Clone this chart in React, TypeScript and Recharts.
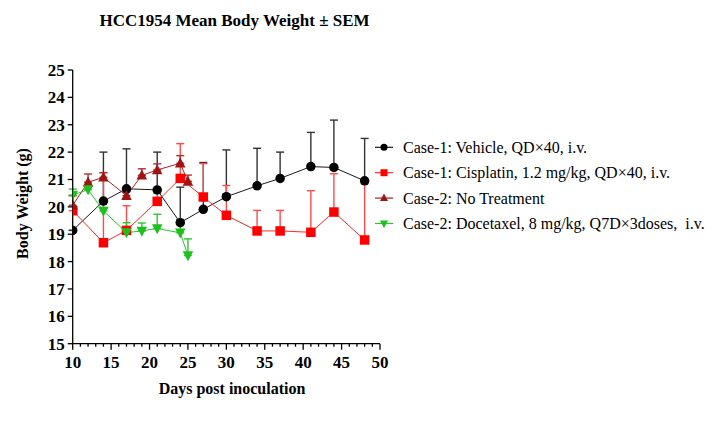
import React from 'react';
import { LineChart, Line, XAxis, YAxis, ErrorBar, Legend, Label } from 'recharts';

// Days post inoculation for each group
const case1Days = [10, 14, 17, 21, 24, 27, 30, 34, 37, 41, 44, 48];
const case2Days = [10, 12, 14, 17, 19, 21, 24, 25];

// Mean body weight (g) and upper SEM per group
const vehicleMean = [19.14, 20.21, 20.66, 20.62, 19.42, 19.91, 20.37, 20.77, 21.04, 21.47, 21.44, 20.95];
const vehicleSem = [0, 1.79, 1.46, 1.38, 1.3, 1.71, 1.71, 1.37, 0.96, 1.25, 1.73, 1.55];

const cisplatinMean = [19.86, 18.69, 19.14, 20.2, 21.04, 20.36, 19.69, 19.12, 19.12, 19.07, 19.81, 18.79];
const cisplatinSem = [0.55, 2.56, 0.9, 0.3, 1.27, 1.22, 1.09, 0.75, 0.75, 1.52, 1.4, 2.06];

const noTreatmentMean = [20.06, 20.9, 21.08, 20.41, 21.15, 21.35, 21.59, 20.93];
const noTreatmentSem = [0.35, 0.3, 0.17, 0.15, 0.24, 0.22, 0.28, 0.23];

const docetaxelMean = [20.43, 20.63, 19.85, 19.06, 19.12, 19.21, 19.05, 18.22];
const docetaxelSem = [0.22, 0.15, 0.1, 0.36, 0.29, 0.52, 0.49, 0.61];

const xTicks = Array.from({ length: 41 }, (_, i) => 10 + i);
const yTicks = [15, 16, 17, 18, 19, 20, 21, 22, 23, 24, 25];

const FONT = '"Liberation Serif", "Times New Roman", serif';

const toRows = (days: number[], mean: number[], sem: number[]) =>
  days.map((d, i) => ({ day: d, w: mean[i], err: [0, sem[i]] }));

type Shape = 'circle' | 'square' | 'triUp' | 'triDown';

const Marker = ({ cx, cy, shape, color, size }: { cx: number; cy: number; shape: Shape; color: string; size: number }) => {
  const h = size / 2;
  if (shape === 'circle') return <circle cx={cx} cy={cy} r={h} fill={color} stroke="none" />;
  if (shape === 'square') return <rect x={cx - h} y={cy - h} width={size} height={size} fill={color} stroke="none" />;
  if (shape === 'triUp')
    return <polygon points={`${cx},${cy - h - 1} ${cx - h - 0.5},${cy + h - 0.5} ${cx + h + 0.5},${cy + h - 0.5}`} fill={color} stroke="none" />;
  return <polygon points={`${cx},${cy + h + 1} ${cx - h - 0.5},${cy - h + 0.5} ${cx + h + 0.5},${cy - h + 0.5}`} fill={color} stroke="none" />;
};

const series = [
  { name: 'Case-1: Vehicle, QD×40, i.v.', rows: toRows(case1Days, vehicleMean, vehicleSem), color: '#000000', line: '#1a1a1a', bar: '#333333', shape: 'circle' as Shape },
  { name: 'Case-1: Cisplatin, 1.2 mg/kg, QD×40, i.v.', rows: toRows(case1Days, cisplatinMean, cisplatinSem), color: '#ff0000', line: '#ff2a2a', bar: '#ff4a4a', shape: 'square' as Shape },
  { name: 'Case-2: No Treatment', rows: toRows(case2Days, noTreatmentMean, noTreatmentSem), color: '#a01414', line: '#a82020', bar: '#b03030', shape: 'triUp' as Shape },
  { name: 'Case-2: Docetaxel, 8 mg/kg, Q7D×3doses,  i.v.', rows: toRows(case2Days, docetaxelMean, docetaxelSem), color: '#1ec01e', line: '#2ac42a', bar: '#30c430', shape: 'triDown' as Shape },
];

const XTick = (props: any) => {
  const { x, y, payload } = props;
  const v = payload.value as number;
  const major = v % 5 === 0;
  return (
    <g>
      <line x1={x} x2={x} y1={y} y2={y + (major ? 6 : 3)} stroke="#000" strokeWidth={1.3} />
      {major && (
        <text x={x} y={y + 24} textAnchor="middle" fontFamily={FONT} fontWeight="bold" fontSize={17} fill="#000">
          {v}
        </text>
      )}
    </g>
  );
};

const YTick = (props: any) => {
  const { x, y, payload } = props;
  return (
    <g>
      <line x1={x} x2={x - 5} y1={y} y2={y} stroke="#000" strokeWidth={1.3} />
      <text x={x - 8} y={y + 6} textAnchor="end" fontFamily={FONT} fontWeight="bold" fontSize={17} fill="#000">
        {payload.value}
      </text>
    </g>
  );
};

const LegendBox = () => (
  <svg width={348} height={110} style={{ display: 'block', overflow: 'visible' }}>
    {series.map((s, i) => {
      const cy = 12.3 + i * 25.4;
      return (
        <g key={s.name}>
          <line x1={5} x2={23} y1={cy} y2={cy} stroke={s.line} strokeWidth={1.2} />
          <Marker cx={14} cy={cy} shape={s.shape} color={s.color} size={7} />
          <text x={33} y={cy + 5.5} fontFamily={FONT} fontSize={16} fill="#000" style={{ whiteSpace: 'pre' }}>
            {s.name}
          </text>
        </g>
      );
    })}
  </svg>
);

export default function App() {
  return (
    <div style={{ position: 'absolute', left: 0, top: 0, width: 718, height: 428, background: '#fff' }}>
      <div
        style={{
          position: 'absolute',
          left: 0,
          width: 469,
          top: 11,
          textAlign: 'center',
          fontFamily: FONT,
          fontWeight: 'bold',
          fontSize: 17,
          lineHeight: '20px',
          color: '#000',
        }}
      >
        HCC1954 Mean Body Weight ± SEM
      </div>
      <LineChart width={718} height={428} margin={{ top: 70, right: 338, bottom: 0, left: 0 }}>
        <XAxis
          type="number"
          dataKey="day"
          domain={[10, 50]}
          ticks={xTicks}
          interval={0}
          allowDataOverflow
          height={84.3}
          tickSize={0}
          tickMargin={0}
          tick={<XTick />}
          axisLine={{ stroke: '#000', strokeWidth: 1.3 }}
        >
          <Label
            content={() => (
              <text x={232} y={393.5} textAnchor="middle" fontFamily={FONT} fontWeight="bold" fontSize={16} fill="#000">
                Days post inoculation
              </text>
            )}
          />
        </XAxis>
        <YAxis
          type="number"
          domain={[15, 25]}
          ticks={yTicks}
          interval={0}
          allowDataOverflow
          width={72.7}
          tickSize={0}
          tickMargin={0}
          tick={<YTick />}
          axisLine={{ stroke: '#000', strokeWidth: 1.3 }}
        >
          <Label
            content={() => (
              <text
                x={28}
                y={203.5}
                transform="rotate(-90 28 203.5)"
                textAnchor="middle"
                fontFamily={FONT}
                fontWeight="bold"
                fontSize={16}
                fill="#000"
              >
                Body Weight (g)
              </text>
            )}
          />
        </YAxis>
        <Legend
          layout="horizontal"
          verticalAlign="middle"
          align="center"
          content={() => <LegendBox />}
          wrapperStyle={{ position: 'absolute', left: 370, top: 135, width: 348, height: 110 }}
        />
        {series.map((s) => (
          <Line
            key={s.name}
            data={s.rows}
            dataKey="w"
            name={s.name}
            stroke={s.line}
            strokeWidth={1}
            isAnimationActive={false}
            dot={(p: any) => <Marker key={`${s.name}-${p.index}`} cx={p.cx} cy={p.cy} shape={s.shape} color={s.color} size={9.5} />}
            activeDot={false}
          >
            <ErrorBar dataKey="err" direction="y" width={4} stroke={s.bar} strokeWidth={1.4} isAnimationActive={false} />
          </Line>
        ))}
      </LineChart>
    </div>
  );
}
